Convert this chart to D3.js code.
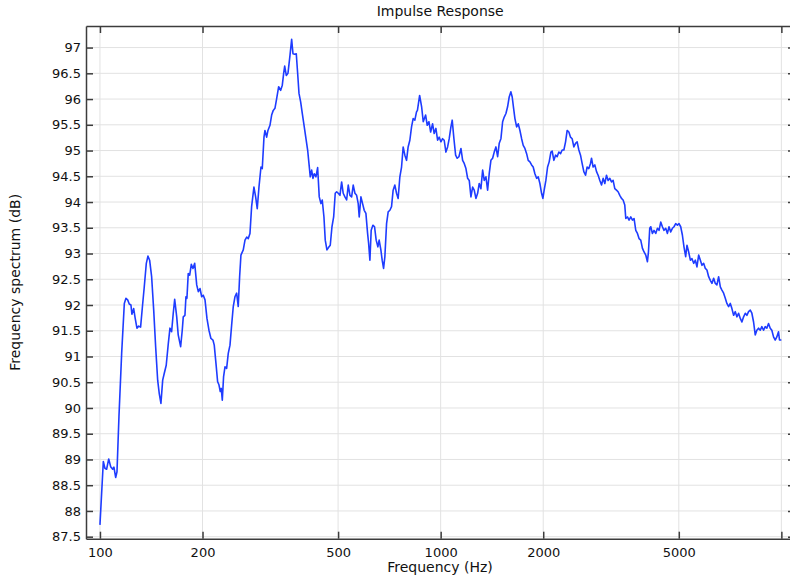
<!DOCTYPE html>
<html>
<head>
<meta charset="utf-8">
<script src="https://cdn.jsdelivr.net/npm/d3@7"></script>
<style>
  html, body { margin: 0; padding: 0; background: #fff; }
  svg { display: block; }
</style>
</head>
<body>
<svg id="chart" width="790" height="581"></svg>
<script>
// Frequency spectrum of the impulse response (Hz -> dB)
const freqHz = [
  100, 102.3, 103.4, 104.6, 106.1, 107.5, 109.0, 109.9, 111.2, 112.2,
  113.7, 115.8, 117.9, 119.2, 120.6, 121.9, 123.3, 124.1, 125.6, 126.9,
  128.4, 129.9, 131.6, 133.5, 134.9, 136.8, 138.3, 139.9, 141.8, 143.8,
  145.7, 147.7, 149.3, 151.0, 152.8, 154.4, 156.5, 158.7, 160.5, 162.3,
  164.1, 165.7, 168.0, 169.7, 172.5, 174.4, 175.6, 177.6, 178.8, 180.0,
  181.6, 183.4, 185.4, 187.5, 189.7, 192.3, 194.4, 196.6, 198.9, 201.0,
  203.4, 206.1, 208.9, 211.7, 214.6, 216.5, 219.0, 221.5, 223.5, 225.5,
  227.0, 228.6, 230.6, 232.8, 235.4, 238.0, 240.8, 243.5, 246.2, 249.0,
  251.9, 254.6, 257.0, 259.3, 263.4, 266.5, 269.6, 272.5, 275.6, 278.7,
  283.1, 286.4, 289.5, 292.9, 296.9, 299.5, 303.0, 305.0, 308.5, 311.2,
  315.5, 319.1, 322.6, 326.3, 330.1, 334.6, 339.2, 342.9, 346.1, 348.5,
  352.3, 356.3, 361.2, 365.3, 368.6, 372.8, 376.9, 380.4, 383.9, 388.3,
  392.5, 397.8, 402.4, 407.0, 410.6, 414.3, 418.2, 421.9, 425.6, 430.5,
  435.4, 440.2, 445.3, 449.2, 454.4, 458.4, 463.7, 469.1, 474.2, 479.7,
  485.2, 490.4, 495.1, 500.5, 506.3, 512.1, 517.6, 523.6, 529.7, 535.5,
  541.7, 547.9, 553.8, 560.2, 566.7, 572.8, 576.7, 583.4, 590.0, 596.5,
  603.4, 610.3, 614.5, 619.9, 625.3, 632.5, 639.7, 646.7, 654.2, 659.9,
  667.6, 673.5, 679.9, 685.9, 693.8, 701.4, 709.5, 717.5, 725.3, 733.7,
  742.2, 750.3, 759.0, 767.7, 776.1, 785.1, 794.0, 802.7, 812.0, 821.4,
  830.3, 839.9, 849.4, 854.7, 867.5, 879.3, 888.9, 903.4, 913.2, 923.8,
  934.6, 947.0, 957.2, 968.3, 979.5, 990.2, 1001.6, 1013.2, 1024.2, 1036.1,
  1048.1, 1059.5, 1071.8, 1081.2, 1093.8, 1106.4, 1118.5, 1131.4, 1146.9, 1160.1,
  1172.7, 1186.3, 1200.0, 1213.1, 1227.1, 1241.1, 1254.6, 1269.1, 1283.8, 1297.8,
  1312.8, 1328.0, 1342.4, 1358.0, 1373.4, 1388.4, 1404.4, 1420.7, 1436.1, 1452.7,
  1469.5, 1485.5, 1502.7, 1520.1, 1536.6, 1554.4, 1572.0, 1589.1, 1607.5, 1621.8,
  1637.2, 1651.9, 1671.0, 1689.2, 1708.8, 1728.2, 1747.0, 1767.2, 1787.7, 1807.1,
  1828.0, 1848.8, 1868.9, 1890.6, 1912.5, 1933.3, 1955.6, 1977.8, 1995.3, 2012.8,
  2036.1, 2059.7, 2082.1, 2106.2, 2124.7, 2149.3, 2173.7, 2197.3, 2222.8, 2248.5,
  2273.0, 2299.3, 2325.9, 2351.2, 2378.4, 2405.4, 2431.6, 2459.7, 2488.2, 2515.3,
  2544.4, 2573.3, 2601.3, 2631.4, 2661.9, 2690.9, 2722.0, 2752.9, 2771.9, 2802.1,
  2834.5, 2867.3, 2898.5, 2932.1, 2966.0, 2998.3, 3032.3, 3067.4, 3100.8, 3136.7,
  3173.0, 3207.5, 3244.0, 3281.6, 3317.3, 3355.7, 3394.5, 3431.4, 3470.3, 3494.4,
  3534.0, 3572.5, 3613.9, 3655.7, 3695.5, 3738.3, 3780.7, 3821.8, 3866.0, 3910.8,
  3953.3, 3999.1, 4044.5, 4072.5, 4108.3, 4136.8, 4183.7, 4229.2, 4278.2, 4327.7,
  4374.8, 4425.4, 4475.6, 4524.3, 4576.7, 4629.7, 4680.0, 4733.1, 4787.9, 4840.0,
  4896.0, 4952.7, 5006.5, 5064.5, 5122.0, 5177.7, 5237.6, 5283.6, 5344.8, 5406.7,
  5465.5, 5528.8, 5591.5, 5652.3, 5717.8, 5784.0, 5847.0, 5913.3, 5981.7, 6046.8,
  6116.8, 6187.6, 6255.0, 6327.4, 6399.2, 6468.8, 6543.7, 6619.5, 6691.5, 6769.0,
  6845.8, 6920.3, 7000.4, 7081.5, 7158.6, 7241.4, 7323.6, 7403.3, 7489.0, 7575.7,
  7658.1, 7746.8, 7834.7, 7919.9, 8011.6, 8104.3, 8192.5, 8287.4, 8381.4, 8472.6,
  8570.7, 8670.0, 8764.3, 8865.8, 8966.4, 9064.0, 9168.9, 9275.0, 9376.0, 9484.6,
  9592.2, 9696.6, 9808.8, 9874.5, 10000
];
const levelDb = [
  87.73, 88.96, 88.83, 88.81, 89.01, 88.86, 88.81, 88.85, 88.65, 88.76,
  89.83, 91.06, 92.03, 92.13, 92.10, 92.02, 92.00, 91.82, 91.93, 91.74,
  91.55, 91.59, 91.57, 92.03, 92.35, 92.81, 92.95, 92.87, 92.55, 91.90,
  91.19, 90.54, 90.28, 90.09, 90.54, 90.67, 90.83, 91.25, 91.55, 91.48,
  91.84, 92.11, 91.77, 91.42, 91.19, 91.51, 91.77, 91.80, 92.16, 92.13,
  92.61, 92.58, 92.79, 92.71, 92.81, 92.39, 92.26, 92.32, 92.16, 92.19,
  92.10, 91.74, 91.51, 91.35, 91.32, 91.22, 90.87, 90.51, 90.45, 90.32,
  90.38, 90.15, 90.61, 90.80, 90.77, 91.06, 91.22, 91.61, 91.97, 92.16,
  92.23, 91.97, 92.55, 92.97, 93.07, 93.26, 93.32, 93.29, 93.39, 93.91,
  94.29, 94.10, 93.87, 94.29, 94.68, 94.65, 95.26, 95.39, 95.26, 95.39,
  95.49, 95.69, 95.78, 95.82, 96.01, 96.24, 96.17, 96.27, 96.50, 96.64,
  96.46, 96.50, 96.85, 97.16, 96.88, 96.87, 96.88, 96.50, 96.11, 95.94,
  95.72, 95.46, 95.23, 95.01, 94.75, 94.49, 94.62, 94.46, 94.55, 94.49,
  94.67, 94.10, 93.97, 94.04, 93.71, 93.26, 93.07, 93.12, 93.16, 93.52,
  93.71, 94.17, 94.20, 94.17, 94.13, 94.39, 94.17, 94.10, 94.04, 94.33,
  94.13, 94.10, 94.33, 94.17, 94.13, 93.97, 93.71, 94.10, 93.97, 93.84,
  93.78, 93.39, 93.20, 92.87, 93.45, 93.55, 93.52, 93.26, 93.13, 93.26,
  93.07, 92.87, 92.71, 92.94, 93.58, 93.81, 93.84, 93.91, 94.23, 94.33,
  94.17, 94.07, 94.49, 94.68, 95.07, 94.91, 94.81, 95.07, 95.20, 95.46,
  95.62, 95.59, 95.75, 95.78, 96.07, 95.85, 95.56, 95.69, 95.49, 95.56,
  95.36, 95.52, 95.33, 95.43, 95.20, 95.26, 95.17, 95.23, 95.20, 94.97,
  95.07, 95.23, 95.46, 95.59, 95.23, 94.91, 94.85, 94.88, 95.04, 94.81,
  94.75, 94.65, 94.46, 94.42, 94.10, 94.29, 94.23, 94.07, 94.17, 94.36,
  94.26, 94.62, 94.42, 94.49, 94.23, 94.55, 94.81, 94.85, 94.97, 95.07,
  94.88, 95.14, 95.23, 95.56, 95.65, 95.72, 95.85, 96.04, 96.14, 96.04,
  95.82, 95.62, 95.46, 95.52, 95.39, 95.23, 95.10, 95.04, 94.94, 94.81,
  94.78, 94.72, 94.68, 94.55, 94.46, 94.49, 94.36, 94.17, 94.07, 94.23,
  94.42, 94.68, 94.78, 94.97, 94.99, 94.81, 94.91, 94.88, 94.97, 94.94,
  95.01, 95.01, 95.17, 95.39, 95.36, 95.26, 95.23, 95.07, 95.14, 95.17,
  95.01, 94.91, 94.75, 94.59, 94.52, 94.68, 94.65, 94.75, 94.85, 94.68,
  94.72, 94.59, 94.52, 94.42, 94.33, 94.46, 94.36, 94.52, 94.42, 94.46,
  94.39, 94.42, 94.26, 94.23, 94.20, 94.13, 94.07, 94.04, 93.94, 93.68,
  93.71, 93.65, 93.71, 93.65, 93.68, 93.45, 93.39, 93.29, 93.26, 93.10,
  93.03, 92.97, 92.84, 93.03, 93.49, 93.52, 93.39, 93.45, 93.39, 93.49,
  93.45, 93.61, 93.52, 93.45, 93.49, 93.39, 93.52, 93.42, 93.49, 93.52,
  93.58, 93.55, 93.58, 93.52, 93.36, 93.13, 92.94, 93.16, 93.03, 92.87,
  92.90, 92.81, 92.87, 92.74, 92.97, 92.87, 92.77, 92.81, 92.71, 92.68,
  92.55, 92.48, 92.42, 92.52, 92.42, 92.39, 92.55, 92.35, 92.29, 92.23,
  92.13, 92.03, 91.97, 92.03, 91.93, 91.80, 91.87, 91.77, 91.84, 91.74,
  91.67, 91.77, 91.84, 91.80, 91.87, 91.90, 91.84, 91.67, 91.42, 91.51,
  91.55, 91.51, 91.58, 91.51, 91.58, 91.55, 91.64, 91.55, 91.51, 91.38,
  91.32, 91.38, 91.48, 91.32, 91.32
];

const xTicks = [100, 200, 500, 1000, 2000, 5000, 10000];
const xTickLabels = ["100", "200", "500", "1000", "2000", "5000", ""];
const yTicks = [87.5, 88, 88.5, 89, 89.5, 90, 90.5, 91, 91.5, 92, 92.5, 93,
                93.5, 94, 94.5, 95, 95.5, 96, 96.5, 97];
const xDomain = [91.0, 10965];
const yDomain = [87.461, 97.419];

const titleText = "Impulse Response";
const xLabelText = "Frequency (Hz)";
const yLabelText = "Frequency spectrum (dB)";

const FONT = "'DejaVu Sans', sans-serif";
const box = { left: 86, right: 795, top: 26, bottom: 538.7 };
const lineColor = "#1e3cff";
const gridColor = "#e2e2e2";
const frameColor = "#3c3c3c";

const svg = d3.select("#chart");

const x = d3.scaleLog().domain(xDomain).range([box.left, box.right]);
const y = d3.scaleLinear().domain(yDomain).range([box.bottom, box.top]);

// grid
const grid = svg.append("g").attr("class", "grid");
grid.selectAll("line.h").data(yTicks).join("line")
  .attr("class", "h")
  .attr("x1", box.left).attr("x2", box.right)
  .attr("y1", d => y(d)).attr("y2", d => y(d))
  .attr("stroke", gridColor).attr("stroke-width", 1);
grid.selectAll("line.v").data(xTicks).join("line")
  .attr("class", "v")
  .attr("x1", d => x(d)).attr("x2", d => x(d))
  .attr("y1", box.top).attr("y2", box.bottom)
  .attr("stroke", gridColor).attr("stroke-width", 1);

// spectrum curve
svg.append("clipPath").attr("id", "plot-clip")
  .append("rect")
  .attr("x", box.left).attr("y", box.top)
  .attr("width", box.right - box.left).attr("height", box.bottom - box.top);

const points = freqHz.map((f, i) => [f, levelDb[i]]);
const line = d3.line().x(d => x(d[0])).y(d => y(d[1]));
svg.append("path")
  .datum(points)
  .attr("clip-path", "url(#plot-clip)")
  .attr("fill", "none")
  .attr("stroke", lineColor)
  .attr("stroke-width", 1.6)
  .attr("stroke-linejoin", "round")
  .attr("d", line);

// axes with inward ticks on all four sides
function styleAxis(g) {
  g.select(".domain").attr("stroke", frameColor).attr("stroke-width", 1.5);
  g.selectAll(".tick line").attr("stroke", frameColor).attr("stroke-width", 1.5);
  g.selectAll(".tick text").attr("fill", "#111").style("font-family", FONT).style("font-size", "13px");
}

const xLabelFor = d => xTickLabels[xTicks.indexOf(d)];

svg.append("g")
  .attr("transform", `translate(0,${box.bottom})`)
  .call(d3.axisBottom(x).tickValues(xTicks).tickFormat(xLabelFor)
    .tickSizeInner(-7).tickSizeOuter(0).tickPadding(9.5))
  .call(styleAxis);

svg.append("g")
  .attr("transform", `translate(0,${box.top})`)
  .call(d3.axisTop(x).tickValues(xTicks).tickFormat(() => "")
    .tickSizeInner(-7).tickSizeOuter(0))
  .call(styleAxis);

svg.append("g")
  .attr("transform", `translate(${box.left},0)`)
  .call(d3.axisLeft(y).tickValues(yTicks).tickFormat(d3.format("~g"))
    .tickSizeInner(-7).tickSizeOuter(0).tickPadding(5))
  .call(styleAxis);

svg.append("g")
  .attr("transform", `translate(${box.right},0)`)
  .call(d3.axisRight(y).tickValues(yTicks).tickFormat(() => "")
    .tickSizeInner(-7).tickSizeOuter(0))
  .call(styleAxis);

svg.selectAll(".domain").attr("fill", "none");

// title and axis labels
svg.append("text")
  .attr("x", 440.2).attr("y", 15.5)
  .attr("text-anchor", "middle")
  .style("font-family", FONT).style("font-size", "14px").attr("fill", "#111")
  .text(titleText);

svg.append("text")
  .attr("x", 440).attr("y", 572)
  .attr("text-anchor", "middle")
  .style("font-family", FONT).style("font-size", "14px").attr("fill", "#111")
  .text(xLabelText);

svg.append("text")
  .attr("transform", `translate(19.5,${(box.top + box.bottom) / 2}) rotate(-90)`)
  .attr("text-anchor", "middle")
  .style("font-family", FONT).style("font-size", "14px").attr("fill", "#111")
  .text(yLabelText);
</script>
</body>
</html>
